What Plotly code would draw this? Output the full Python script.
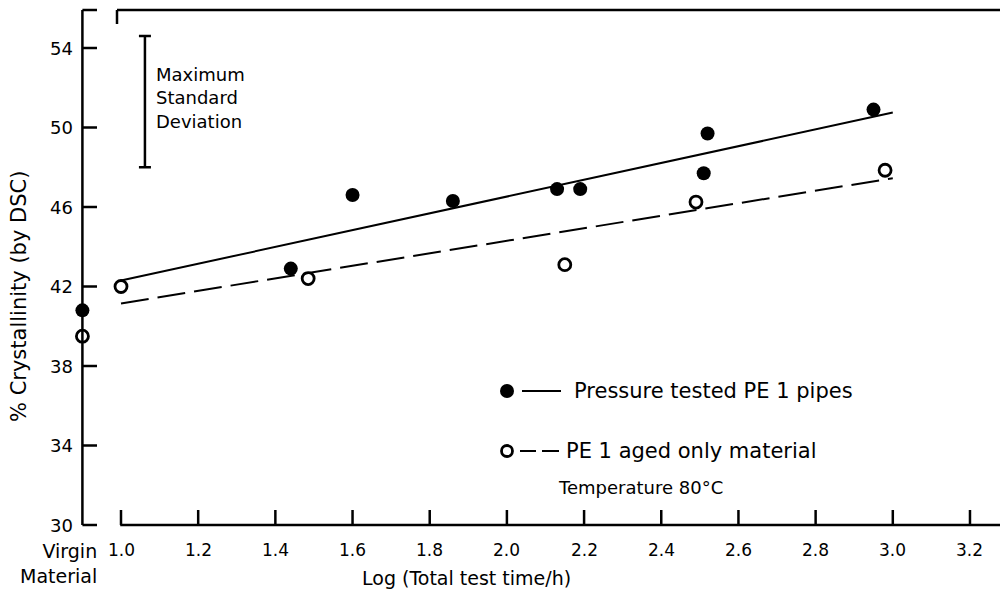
import plotly.graph_objects as go

# ---- data -------------------------------------------------------------
VIRGIN_X = 0.9  # position used for the un-aged (virgin) material

pressure_x = [VIRGIN_X, 1.44, 1.60, 1.86, 2.13, 2.19, 2.51, 2.52, 2.95]
pressure_y = [40.8, 42.9, 46.6, 46.3, 46.9, 46.9, 47.7, 49.7, 50.9]

aged_x = [VIRGIN_X, 1.0, 1.485, 2.15, 2.49, 2.98]
aged_y = [39.5, 42.0, 42.4, 43.1, 46.25, 47.85]

pressure_fit_x = [1.0, 3.0]
pressure_fit_y = [42.3, 50.75]
aged_fit_x = [1.0, 3.0]
aged_fit_y = [41.15, 47.45]

sd_x = 1.062
sd_low, sd_high = 48.0, 54.6

x_ticks = [1.0, 1.2, 1.4, 1.6, 1.8, 2.0, 2.2, 2.4, 2.6, 2.8, 3.0, 3.2]
x_tick_labels = ["1.0", "1.2", "1.4", "1.6", "1.8", "2.0", "2.2", "2.4", "2.6", "2.8", "3.0", "3.2"]
y_ticks = [30, 34, 38, 42, 46, 50, 54]
y_tick_labels = ["30", "34", "38", "42", "46", "50", "54"]

# ---- page geometry: pixel <-> data helpers -----------------------------
W, H = 1000, 592
X0_PX, X_SCALE = 121, 385.9    # x = 1.0 sits at px 121
Y0_PX, Y_SCALE = 525, 19.875   # y = 30 sits at px 525


def dx(px):
    return 1.0 + (px - X0_PX) / X_SCALE


def dy(py):
    return 30 + (Y0_PX - py) / Y_SCALE


FONT = "DejaVu Sans"
INK = "black"
AX_W = 2.5

fig = go.Figure()

# fitted trend lines
fig.add_trace(go.Scatter(x=pressure_fit_x, y=pressure_fit_y, mode="lines",
                         line=dict(color=INK, width=2), hoverinfo="skip"))
fig.add_trace(go.Scatter(x=aged_fit_x, y=aged_fit_y, mode="lines",
                         line=dict(color=INK, width=2, dash="28px,9px"), hoverinfo="skip"))

# measured points
fig.add_trace(go.Scatter(x=pressure_x, y=pressure_y, mode="markers",
                         marker=dict(symbol="circle", size=14, color=INK)))
fig.add_trace(go.Scatter(x=aged_x, y=aged_y, mode="markers",
                         marker=dict(symbol="circle-open", size=12, color=INK,
                                     line=dict(width=2.8, color=INK))))

# maximum standard deviation bar
fig.add_trace(go.Scatter(
    x=[sd_x], y=[(sd_low + sd_high) / 2], mode="markers",
    marker=dict(size=1, opacity=0),
    error_y=dict(type="data", symmetric=True, array=[(sd_high - sd_low) / 2],
                 width=6, thickness=2.5, color=INK),
    hoverinfo="skip"))

# legend samples
leg1_y, leg2_y = dy(391), dy(451)
fig.add_trace(go.Scatter(x=[dx(507)], y=[leg1_y], mode="markers",
                         marker=dict(symbol="circle", size=14, color=INK)))
fig.add_trace(go.Scatter(x=[dx(507)], y=[leg2_y], mode="markers",
                         marker=dict(symbol="circle-open", size=11, color=INK,
                                     line=dict(width=2.8, color=INK))))

shapes = []


def seg(x0, y0, x1, y1, w=AX_W):
    shapes.append(dict(type="line", xref="x", yref="y", x0=x0, y0=y0, x1=x1, y1=y1,
                       line=dict(color=INK, width=w)))


# legend line samples
seg(dx(522), leg1_y, dx(561), leg1_y, 2)
seg(dx(520), leg2_y, dx(536), leg2_y, 2)
seg(dx(542), leg2_y, dx(559), leg2_y, 2)

# left (y) axis with inward ticks
y_top = dy(10)
tick_px = 15
seg(VIRGIN_X, 30, VIRGIN_X, y_top)
seg(VIRGIN_X, y_top, dx(97), y_top)
for yv in y_ticks:
    seg(VIRGIN_X, yv, dx(82 + tick_px), yv)

# bottom (x) axis with inward ticks
seg(x_ticks[0] - 0.002, 30, dx(1000), 30)
for xv in x_ticks:
    seg(xv, 30, xv, dy(Y0_PX - tick_px))

# top frame line with its hook
seg(dx(117), y_top, dx(1000), y_top)
seg(dx(117), y_top, dx(117), dy(24))

annotations = []


def label(x, y, text, size, xanchor="center", yanchor="middle", align="center", angle=0):
    annotations.append(dict(x=x, y=y, xref="x", yref="y", text=text, showarrow=False,
                            xanchor=xanchor, yanchor=yanchor, align=align, textangle=angle,
                            font=dict(family=FONT, size=size, color=INK)))


for yv, t in zip(y_ticks, y_tick_labels):
    label(dx(75), yv, t, 18, xanchor="right")
for xv, t in zip(x_ticks, x_tick_labels):
    label(xv, dy(550), t, 17)

label(dx(99), dy(538), "Virgin<br>Material", 19, xanchor="right", yanchor="top", align="right")
label(dx(466), dy(578), "Log (Total test time/h)", 19)
label(dx(19), dy(297), "% Crystallinity (by DSC)", 21, angle=-90)

label(dx(154), dy(98), "Maximum<br>Standard<br>Deviation", 18, xanchor="left", align="left")

label(dx(572), leg1_y, "Pressure tested PE 1 pipes", 21, xanchor="left")
label(dx(564), leg2_y, "PE 1 aged only material", 21, xanchor="left")
label(dx(556), dy(487), "Temperature 80°C", 18, xanchor="left")

fig.update_layout(
    width=W, height=H,
    margin=dict(l=0, r=0, t=0, b=0),
    paper_bgcolor="white", plot_bgcolor="white",
    showlegend=False,
    xaxis=dict(range=[dx(0), dx(W)], visible=False, fixedrange=True),
    yaxis=dict(range=[dy(H), dy(0)], visible=False, fixedrange=True),
    shapes=shapes,
    annotations=annotations,
)

fig.write_html("out.html")
